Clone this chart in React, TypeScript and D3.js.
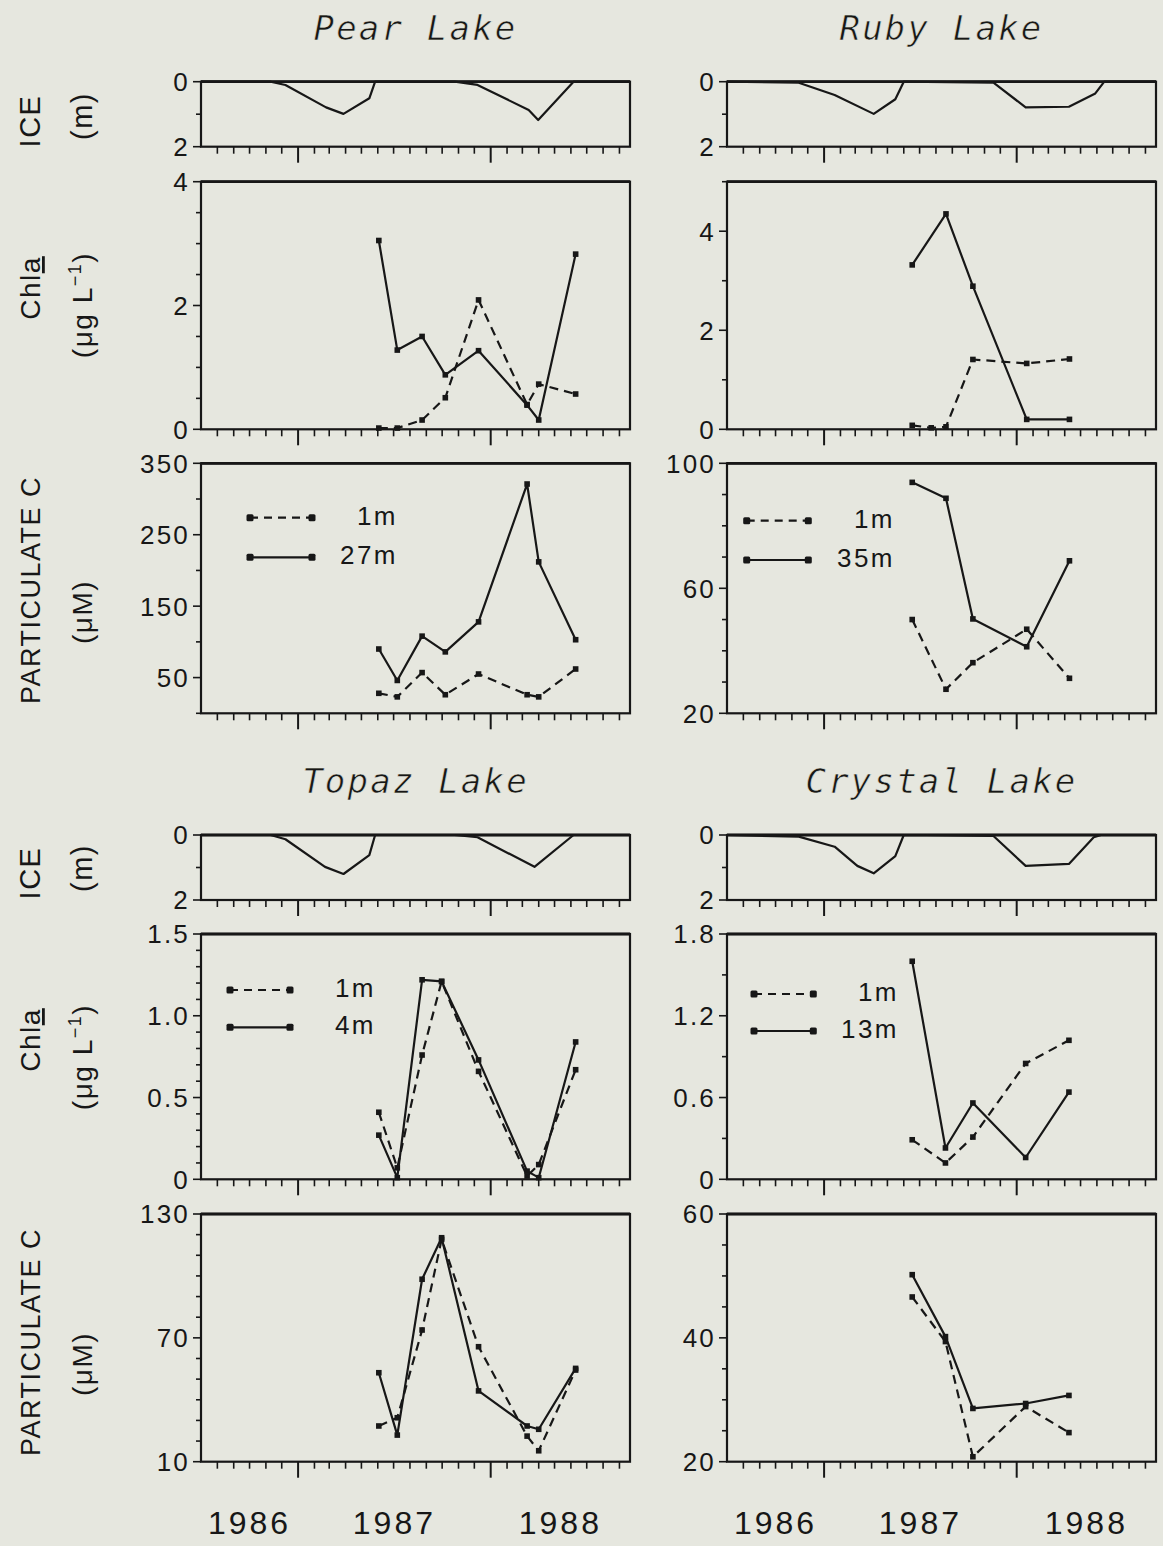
import React from 'react';
import * as d3 from 'd3';

// ---------------- data ----------------
const X_START = '1986-07-01';
const X_END = '1988-09-21';
const YEAR_LABELS = ['1986', '1987', '1988'];

// Pear Lake
const PEAR_ICE_DATES = ['1986-07-01', '1986-11-10', '1986-12-08', '1987-02-23', '1987-03-28', '1987-05-16', '1987-05-27', '1987-10-25', '1987-12-07', '1988-03-13', '1988-03-31', '1988-06-06', '1988-09-21'];
const PEAR_ICE = [0, 0, 0.1, 0.79, 0.99, 0.51, 0, 0, 0.1, 0.87, 1.18, 0, 0];
const PEAR_DATES = ['1987-06-03', '1987-07-08', '1987-08-24', '1987-10-07', '1987-12-09', '1988-03-10', '1988-04-01', '1988-06-10'];
const PEAR_CHLA_1M = [0.02, 0.02, 0.15, 0.51, 2.09, 0.4, 0.73, 0.57];
const PEAR_CHLA_27M = [3.05, 1.28, 1.5, 0.88, 1.27, 0.39, 0.15, 2.83];
const PEAR_PC_1M = [28, 23, 57, 26, 55, 26, 23, 62];
const PEAR_PC_27M = [90, 46, 108, 86, 128, 321, 212, 103];

// Ruby Lake
const RUBY_ICE_DATES = ['1986-07-01', '1986-11-14', '1987-01-21', '1987-04-05', '1987-05-16', '1987-06-01', '1987-11-18', '1988-01-18', '1988-04-09', '1988-05-29', '1988-06-15', '1988-09-21'];
const RUBY_ICE = [0, 0.03, 0.41, 0.99, 0.54, 0, 0.03, 0.79, 0.77, 0.36, 0, 0];
const RUBY_DATES = ['1987-06-17', '1987-08-20', '1987-10-10', '1988-01-20', '1988-04-10'];
const RUBY_CHLA_1M_DATES = ['1987-06-17', '1987-07-23', '1987-08-20', '1987-10-10', '1988-01-20', '1988-04-10'];
const RUBY_CHLA_1M = [0.08, 0.03, 0.05, 1.41, 1.33, 1.42];
const RUBY_CHLA_35M = [3.32, 4.35, 2.89, 0.2, 0.2];
const RUBY_PC_1M = [50, 27.7, 36.2, 46.9, 31.2];
const RUBY_PC_35M = [93.9, 88.8, 50.2, 41.3, 68.8];

// Topaz Lake
const TOPAZ_ICE_DATES = ['1986-07-01', '1986-11-10', '1986-12-08', '1987-02-21', '1987-03-28', '1987-05-16', '1987-05-27', '1987-10-25', '1987-12-07', '1988-03-24', '1988-06-06', '1988-09-21'];
const TOPAZ_ICE = [0, 0, 0.13, 0.98, 1.2, 0.62, 0, 0, 0.07, 0.98, 0, 0];
const TOPAZ_DATES = ['1987-06-03', '1987-07-08', '1987-08-24', '1987-09-30', '1987-12-09', '1988-03-10', '1988-04-01', '1988-06-10'];
const TOPAZ_CHLA_1M = [0.41, 0.07, 0.76, 1.21, 0.66, 0.02, 0.09, 0.67];
const TOPAZ_CHLA_4M = [0.27, 0.01, 1.22, 1.21, 0.73, 0.05, 0.01, 0.84];
const TOPAZ_PC_1M = [27.3, 31.3, 73.8, 117.7, 65.7, 22.4, 15.3, 54.4];
const TOPAZ_PC_4M = [53.1, 22.9, 98.4, 118.5, 44.3, 27.3, 25.7, 55.2];

// Crystal Lake
const CRYSTAL_ICE_DATES = ['1986-07-01', '1986-11-14', '1987-01-21', '1987-03-05', '1987-04-05', '1987-05-16', '1987-06-01', '1987-11-18', '1988-01-18', '1988-04-09', '1988-05-26', '1988-06-09', '1988-09-21'];
const CRYSTAL_ICE = [0, 0.05, 0.36, 0.95, 1.18, 0.65, 0, 0.03, 0.95, 0.89, 0.07, 0, 0];
const CRYSTAL_DATES = ['1987-06-17', '1987-08-19', '1987-10-10', '1988-01-18', '1988-04-09'];
const CRYSTAL_CHLA_1M = [0.29, 0.12, 0.31, 0.85, 1.02];
const CRYSTAL_CHLA_13M = [1.6, 0.23, 0.56, 0.16, 0.64];
const CRYSTAL_PC_1M = [46.6, 39.4, 20.8, 28.9, 24.7];
const CRYSTAL_PC_13M = [50.2, 40.2, 28.6, 29.4, 30.7];

// axis tick values
const ICE_TICKS = [0, 1, 2];
const ICE_LABELS = [0, 2];
const PEAR_CHLA_TICKS = d3.range(0, 4.01, 0.5);
const PEAR_CHLA_LABELS = [0, 2, 4];
const RUBY_CHLA_TICKS = [0, 1, 2, 3, 4, 5];
const RUBY_CHLA_LABELS = [0, 2, 4];
const PEAR_PC_TICKS = d3.range(0, 351, 50);
const PEAR_PC_LABELS = [50, 150, 250, 350];
const RUBY_PC_TICKS = d3.range(20, 101, 10);
const RUBY_PC_LABELS = [20, 60, 100];
const TOPAZ_CHLA_TICKS = d3.range(0, 1.51, 0.1);
const TOPAZ_CHLA_LABELS = [0, 0.5, 1.0, 1.5];
const CRYSTAL_CHLA_TICKS = d3.range(0, 1.81, 0.3);
const CRYSTAL_CHLA_LABELS = [0, 0.6, 1.2, 1.8];
const TOPAZ_PC_TICKS = d3.range(10, 131, 10);
const TOPAZ_PC_LABELS = [10, 70, 130];
const CRYSTAL_PC_TICKS = d3.range(20, 61, 5);
const CRYSTAL_PC_LABELS = [20, 40, 60];

// ---------------- styling / layout ----------------
const W = 1163;
const H = 1546;
const BG = '#e6e7df';
const INK = '#171717';
const SANS = '"Liberation Sans", Arial, sans-serif';
const TITLE_FONT = '"DejaVu Sans Mono", monospace';
const LEFT_X = 201;
const RIGHT_X = 727;
const PANEL_W = 429;

const parse = d3.timeParse('%Y-%m-%d');
const fmtInt = (v: number) => String(Math.round(v));
const fmt1 = (v: number) => (v === 0 ? '0' : v.toFixed(1));

type Series = { dates: string[]; values: number[]; dashed: boolean; markers: boolean };
type Legend = { lx1: number; lx2: number; ly: number[]; tx: number; labels: string[] };

function Panel(props: {
  x0: number; y0: number; h: number; domain: [number, number]; invert?: boolean;
  ticks: number[]; labels: number[]; fmt: (v: number) => string;
  series: Series[]; legend?: Legend; yearLabels?: boolean;
}) {
  const { x0, y0, h, domain, invert, ticks, labels, fmt, series, legend, yearLabels } = props;
  const w = PANEL_W;
  const start = parse(X_START) as Date;
  const end = parse(X_END) as Date;
  const xs = d3.scaleTime().domain([start, end]).range([x0, x0 + w]);
  const ys = d3.scaleLinear().domain(domain).range(invert ? [y0, y0 + h] : [y0 + h, y0]);
  const months = d3.timeMonth.range(d3.timeMonth.ceil(start), end).filter((d) => xs(d) > x0 + 1);
  const yearsStart = d3.timeYear.range(d3.timeYear.ceil(start), end);
  const bounds = [start, ...yearsStart, end];
  const isLabel = (t: number) => labels.some((l) => Math.abs(l - t) < 1e-9);

  return (
    <g>
      <rect x={x0} y={y0} width={w} height={h} fill="none" stroke={INK} strokeWidth={2.2} />
      <line x1={x0} x2={x0 + w} y1={y0} y2={y0} stroke={INK} strokeWidth={2.8} />
      {/* x ticks */}
      {months.map((m, i) => {
        const major = m.getMonth() === 0;
        return (
          <line key={'xt' + i} x1={xs(m)} x2={xs(m)} y1={y0 + h} y2={y0 + h + (major ? 16 : 7)} stroke={INK} strokeWidth={major ? 2 : 1.6} />
        );
      })}
      {/* y ticks */}
      {ticks.map((t, i) => (
        <line key={'yt' + i} x1={x0 - (isLabel(t) ? 8 : 5)} x2={x0} y1={ys(t)} y2={ys(t)} stroke={INK} strokeWidth={1.6} />
      ))}
      {labels.map((l, i) => (
        <text key={'yl' + i} x={x0 - 11} y={ys(l)} dy="0.36em" textAnchor="end" fontFamily={SANS} fontSize={26} letterSpacing={2.2} fill={INK}>
          {fmt(l)}
        </text>
      ))}
      {series.map((s, i) => {
        const pts = s.dates.map((d, j) => [xs(parse(d) as Date), ys(s.values[j])] as [number, number]);
        const line = d3.line()(pts) as string;
        return (
          <g key={'s' + i}>
            <path d={line} fill="none" stroke={INK} strokeWidth={2.2} strokeDasharray={s.dashed ? '9 6' : undefined} strokeLinejoin="round" />
            {s.markers && pts.map((p, j) => (
              <rect key={j} x={p[0] - 2.8} y={p[1] - 2.8} width={5.6} height={5.6} fill={INK} />
            ))}
          </g>
        );
      })}
      {legend && legend.ly.map((ly, i) => (
        <g key={'lg' + i}>
          <line x1={x0 + legend.lx1} x2={x0 + legend.lx2} y1={y0 + ly} y2={y0 + ly} stroke={INK} strokeWidth={2.2} strokeDasharray={i === 0 ? '8 6' : undefined} />
          <rect x={x0 + legend.lx1 - 3.5} y={y0 + ly - 3.5} width={7} height={7} rx={1.5} fill={INK} />
          <rect x={x0 + legend.lx2 - 3.5} y={y0 + ly - 3.5} width={7} height={7} rx={1.5} fill={INK} />
          <text x={x0 + legend.tx} y={y0 + ly + 7} textAnchor="end" fontFamily={SANS} fontSize={26} letterSpacing={2.5} fill={INK}>
            {legend.labels[i]}
          </text>
        </g>
      ))}
      {yearLabels && YEAR_LABELS.map((lab, i) => (
        <text key={'yr' + i} x={(xs(bounds[i]) + xs(bounds[i + 1])) / 2} y={1534} textAnchor="middle" fontFamily={SANS} fontSize={32} letterSpacing={3} fill={INK}>
          {lab}
        </text>
      ))}
    </g>
  );
}

function iceSeries(dates: string[], values: number[]): Series[] {
  return [{ dates, values, dashed: false, markers: false }];
}
function pair(dates1: string[], v1: number[], dates2: string[], v2: number[]): Series[] {
  return [
    { dates: dates1, values: v1, dashed: true, markers: true },
    { dates: dates2, values: v2, dashed: false, markers: true },
  ];
}

function RotLabel({ x, y, size, children }: { x: number; y: number; size: number; children: React.ReactNode }) {
  return (
    <text transform={`translate(${x},${y}) rotate(-90)`} textAnchor="middle" fontFamily={SANS} fontSize={size} letterSpacing={1.5} fill={INK}>
      {children}
    </text>
  );
}

function AxisTitles({ dy }: { dy: number }) {
  return (
    <g transform={`translate(0,${dy})`}>
      <RotLabel x={40} y={121} size={29}>ICE</RotLabel>
      <RotLabel x={92} y={116} size={29}>(m)</RotLabel>
      <RotLabel x={40} y={288} size={28}>
        Chl<tspan textDecoration="underline">a</tspan>
      </RotLabel>
      <RotLabel x={92} y={305} size={28}>
        (μg L<tspan dy={-11} fontSize={18}>−1</tspan><tspan dy={11}>)</tspan>
      </RotLabel>
      <RotLabel x={40} y={590} size={27}>PARTICULATE C</RotLabel>
      <RotLabel x={92} y={612} size={28}>(μM)</RotLabel>
    </g>
  );
}

function Title({ x, y, text }: { x: number; y: number; text: string }) {
  return (
    <text x={x} y={y} textAnchor="middle" fontFamily={TITLE_FONT} fontStyle="italic" fontSize={34} letterSpacing={2.2}
      fill={INK} stroke={BG} strokeWidth={0.6}>
      {text}
    </text>
  );
}

export default function App() {
  const topIce = 81.7, topChla = 181.7, topPc = 463.3;
  const botIce = 835, botChla = 934, botPc = 1214;
  return (
    <svg width={W} height={H} style={{ position: 'absolute', left: 0, top: 0 }}>
      <rect x={0} y={0} width={W} height={H} fill={BG} />
      <Title x={LEFT_X + PANEL_W / 2} y={40} text="Pear Lake" />
      <Title x={RIGHT_X + PANEL_W / 2} y={40} text="Ruby Lake" />
      <Title x={LEFT_X + PANEL_W / 2} y={793} text="Topaz Lake" />
      <Title x={RIGHT_X + PANEL_W / 2} y={793} text="Crystal Lake" />
      <AxisTitles dy={0} />
      <AxisTitles dy={752} />

      {/* Pear */}
      <Panel x0={LEFT_X} y0={topIce} h={65} domain={[0, 2]} invert ticks={ICE_TICKS} labels={ICE_LABELS} fmt={fmtInt} series={iceSeries(PEAR_ICE_DATES, PEAR_ICE)} />
      <Panel x0={LEFT_X} y0={topChla} h={247.6} domain={[0, 4]} ticks={PEAR_CHLA_TICKS} labels={PEAR_CHLA_LABELS} fmt={fmtInt}
        series={pair(PEAR_DATES, PEAR_CHLA_1M, PEAR_DATES, PEAR_CHLA_27M)} />
      <Panel x0={LEFT_X} y0={topPc} h={250} domain={[0, 350]} ticks={PEAR_PC_TICKS} labels={PEAR_PC_LABELS} fmt={fmtInt}
        series={pair(PEAR_DATES, PEAR_PC_1M, PEAR_DATES, PEAR_PC_27M)}
        legend={{ lx1: 49, lx2: 111, ly: [54.4, 94], tx: 197, labels: ['1m', '27m'] }} />

      {/* Ruby */}
      <Panel x0={RIGHT_X} y0={topIce} h={65} domain={[0, 2]} invert ticks={ICE_TICKS} labels={ICE_LABELS} fmt={fmtInt} series={iceSeries(RUBY_ICE_DATES, RUBY_ICE)} />
      <Panel x0={RIGHT_X} y0={topChla} h={247.6} domain={[0, 5]} ticks={RUBY_CHLA_TICKS} labels={RUBY_CHLA_LABELS} fmt={fmtInt}
        series={pair(RUBY_CHLA_1M_DATES, RUBY_CHLA_1M, RUBY_DATES, RUBY_CHLA_35M)} />
      <Panel x0={RIGHT_X} y0={topPc} h={250} domain={[20, 100]} ticks={RUBY_PC_TICKS} labels={RUBY_PC_LABELS} fmt={fmtInt}
        series={pair(RUBY_DATES, RUBY_PC_1M, RUBY_DATES, RUBY_PC_35M)}
        legend={{ lx1: 19.7, lx2: 81.3, ly: [57.4, 96.7], tx: 168, labels: ['1m', '35m'] }} />

      {/* Topaz */}
      <Panel x0={LEFT_X} y0={botIce} h={65} domain={[0, 2]} invert ticks={ICE_TICKS} labels={ICE_LABELS} fmt={fmtInt} series={iceSeries(TOPAZ_ICE_DATES, TOPAZ_ICE)} />
      <Panel x0={LEFT_X} y0={botChla} h={245.3} domain={[0, 1.5]} ticks={TOPAZ_CHLA_TICKS} labels={TOPAZ_CHLA_LABELS} fmt={fmt1}
        series={pair(TOPAZ_DATES, TOPAZ_CHLA_1M, TOPAZ_DATES, TOPAZ_CHLA_4M)}
        legend={{ lx1: 29, lx2: 89, ly: [56, 93.3], tx: 175, labels: ['1m', '4m'] }} />
      <Panel x0={LEFT_X} y0={botPc} h={247.7} domain={[10, 130]} ticks={TOPAZ_PC_TICKS} labels={TOPAZ_PC_LABELS} fmt={fmtInt}
        series={pair(TOPAZ_DATES, TOPAZ_PC_1M, TOPAZ_DATES, TOPAZ_PC_4M)} yearLabels />

      {/* Crystal */}
      <Panel x0={RIGHT_X} y0={botIce} h={65} domain={[0, 2]} invert ticks={ICE_TICKS} labels={ICE_LABELS} fmt={fmtInt} series={iceSeries(CRYSTAL_ICE_DATES, CRYSTAL_ICE)} />
      <Panel x0={RIGHT_X} y0={botChla} h={245.3} domain={[0, 1.8]} ticks={CRYSTAL_CHLA_TICKS} labels={CRYSTAL_CHLA_LABELS} fmt={fmt1}
        series={pair(CRYSTAL_DATES, CRYSTAL_CHLA_1M, CRYSTAL_DATES, CRYSTAL_CHLA_13M)}
        legend={{ lx1: 27, lx2: 86.3, ly: [60, 97], tx: 172, labels: ['1m', '13m'] }} />
      <Panel x0={RIGHT_X} y0={botPc} h={247.7} domain={[20, 60]} ticks={CRYSTAL_PC_TICKS} labels={CRYSTAL_PC_LABELS} fmt={fmtInt}
        series={pair(CRYSTAL_DATES, CRYSTAL_PC_1M, CRYSTAL_DATES, CRYSTAL_PC_13M)} yearLabels />
    </svg>
  );
}
